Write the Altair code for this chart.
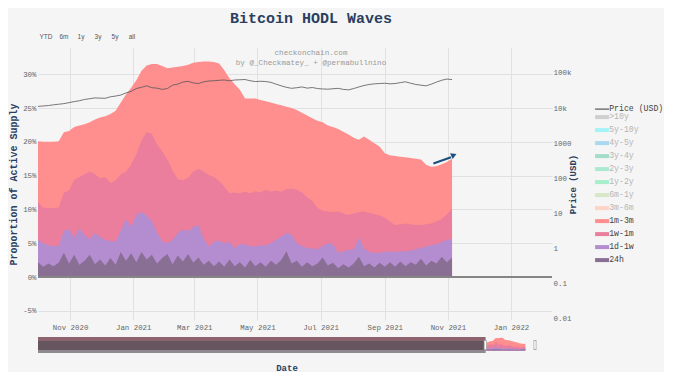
import altair as alt
import pandas as pd

# ---------------- data ----------------
dates = pd.date_range("2020-10-01", periods=81, freq="5D").strftime("%Y-%m-%d").tolist()

# cumulative tops of each visible wave (percent of active supply)
top_1m_3m = [20.1, 20.0, 20.0, 20.0, 20.1, 21.4, 21.6, 22.2, 22.4, 22.6,
             22.9, 23.3, 23.6, 23.8, 24.1, 24.6, 25.8, 27.0, 28.0, 29.1,
             30.5, 31.3, 31.5, 31.5, 31.2, 30.9, 31.0, 31.1, 31.2, 31.4,
             31.7, 31.8, 31.9, 31.9, 31.8, 31.6, 30.6, 29.4, 28.5, 27.7,
             26.4, 26.4, 26.4, 26.2, 26.0, 25.8, 25.6, 25.4, 25.2, 25.0,
             24.7, 24.3, 23.9, 23.5, 23.1, 22.9, 22.4, 22.2, 21.9, 21.5,
             21.1, 20.6, 20.3, 20.8, 20.3, 19.8, 19.3, 18.3, 18.0, 17.9,
             17.8, 17.7, 17.6, 17.5, 17.4, 16.6, 16.3, 16.4, 16.7, 17.0,
             17.5]
top_1w_1m = [11.1, 10.3, 10.2, 10.2, 10.3, 12.5, 12.8, 14.4, 14.8, 15.2,
             15.6, 15.2, 14.6, 14.8, 13.9, 14.3, 15.2, 15.6, 16.6, 18.2,
             20.2, 21.4, 21.2, 19.6, 18.6, 17.4, 15.8, 14.5, 14.3, 14.7,
             15.6, 16.0, 15.6, 15.1, 14.8, 14.2, 13.4, 12.4, 12.5, 12.4,
             12.6, 12.4, 12.7, 12.5, 12.9, 12.6, 12.8, 12.6, 13.0, 13.1,
             12.9, 12.5, 11.8, 11.3, 10.2, 9.8, 9.7, 9.6, 9.7, 9.4,
             9.2, 9.4, 9.6, 9.7, 9.5, 9.3, 9.1, 8.8, 8.2, 7.7,
             7.8, 7.9, 7.8, 7.7, 7.7, 7.8, 7.9, 8.2, 8.6, 9.3,
             10.1]
top_1d_1w = [5.5, 5.0, 4.7, 4.6, 4.6, 6.8, 7.1, 5.8, 7.2, 6.2,
             5.6, 6.6, 5.9, 5.5, 5.3, 5.2, 6.9, 8.6, 7.4, 9.2,
             9.6, 9.1, 8.3, 6.6, 5.3, 5.0, 5.5, 6.5, 7.0, 6.8,
             7.4, 7.7, 5.7, 4.5, 5.2, 5.4, 5.0, 5.2, 4.3, 4.9,
             4.8, 4.6, 4.5, 4.7, 4.7, 5.0, 5.5, 6.0, 6.5, 6.3,
             5.0, 4.6, 4.3, 4.2, 4.1, 4.6, 5.0, 4.9, 3.6, 3.8,
             4.0, 4.1, 5.9, 4.2, 3.7, 3.6, 3.6, 3.7, 3.8, 3.7,
             3.8, 3.8, 3.9, 4.1, 4.3, 4.5, 4.7, 4.9, 5.1, 5.5,
             5.6]
top_24h = [2.2, 1.5, 2.0, 1.6, 2.1, 3.6, 2.0, 3.3, 1.8, 2.4,
           3.3, 1.9, 2.6, 1.7, 2.8, 1.8, 3.7, 2.4, 3.5, 2.2,
           3.7, 2.6, 3.3, 2.0, 2.8, 3.4, 1.9, 3.2, 2.3, 3.4,
           2.1, 2.9, 1.8, 2.4, 1.6, 2.3, 1.5, 2.6, 1.6, 2.2,
           1.4, 2.5, 1.6, 2.2, 1.5, 2.4, 1.8, 2.5, 3.8, 2.0,
           2.4, 1.5, 2.2, 1.6, 2.0, 2.9, 1.7, 2.1, 1.3, 1.9,
           1.4, 2.0, 3.0, 1.6, 2.0, 1.4, 2.1, 1.5, 2.2, 1.5,
           2.3, 1.6, 2.2, 1.8, 2.7, 1.7, 2.4, 2.0, 3.0, 2.2,
           2.9]
price = [11200, 11500, 11800, 12400, 12900, 13400, 14300, 15300, 16200, 17600,
         18500, 19500, 19200, 19000, 21000, 22000, 23500, 27000, 30000, 36000,
         39000, 43000, 38000, 37000, 34000, 36000, 45000, 48000, 55000, 58000,
         52000, 50000, 56000, 59000, 60000, 62000, 63000, 60000, 63000, 64000,
         65000, 60000, 57000, 58000, 57000, 54000, 48000, 43000, 39000, 36500,
         38000, 40000, 37000, 38500, 36000, 35000, 34500, 35500, 36500, 34000,
         33000, 36000, 40000, 44000, 47000, 49000, 50000, 51000, 49000, 50000,
         53000, 56000, 51000, 47000, 45000, 43000, 48000, 55000, 62000, 67000,
         65000]

legend_names = ["Price (USD)", ">10y", "5y-10y", "4y-5y", "3y-4y", "2y-3y", "1y-2y",
                "6m-1y", "3m-6m", "1m-3m", "1w-1m", "1d-1w", "24h"]
legend_colors = ["#555555", "#cfcfcf", "#a4f3f6", "#a9d9f0", "#a3dcc9", "#ace9d1", "#a6efca",
                 "#d6e6c6", "#ffd3c6", "#ff8f8f", "#ea7e9c", "#b48cd0", "#8a6f94"]
hidden_names = legend_names[1:9]

band_names = ["1m-3m", "1w-1m", "1d-1w", "24h"]
band_tops = [top_1m_3m, top_1w_1m, top_1d_1w, top_24h]

arrow_dates = ["2021-10-18", "2021-11-04"]
arrow_pct = [16.8, 17.72]
arrow_head_date = ["2021-11-06"]
arrow_head_pct = [17.98]

credit_lines = ["checkonchain.com", "by @_Checkmatey_ + @permabullnino"]
range_buttons = ["YTD", "6m", "1y", "3y", "5y", "all"]

slider_hist = {"start": ["2008-07-01"], "end": ["2020-10-01"]}
slider_handles = ["2020-10-01", "2022-02-10"]

# ---------------- tables ----------------
bands = pd.DataFrame([{"date": d, "series": n, "pct": v}
                      for n, vals in zip(band_names, band_tops)
                      for d, v in zip(dates, vals)])
prices = pd.DataFrame({"date": dates, "series": "Price (USD)", "price": price})
arrow = pd.DataFrame({"date": arrow_dates, "pct": arrow_pct})
arrow_head_df = pd.DataFrame({"date": arrow_head_date, "pct": arrow_head_pct})
zero = pd.DataFrame({"pct": [0]})

FONT = "Liberation Mono"
NAVY = "#2a3f5f"
BG = "#f5f5f5"
GRID = "#e1e1e1"
LBL = "#666666"

def dt(y, m, d, h=0):
    return alt.DateTime(year=y, month=m, date=d, hours=h, utc=True)

x_enc = alt.X(
    "date:T",
    scale=alt.Scale(type="utc", domain=[dt(2020, 10, 1), dt(2022, 2, 9, 14)]),
    axis=alt.Axis(values=[dt(2020, 11, 1), dt(2021, 1, 1), dt(2021, 3, 1), dt(2021, 5, 1),
                          dt(2021, 7, 1), dt(2021, 9, 1), dt(2021, 11, 1), dt(2022, 1, 1)],
                  labelExpr="utcFormat(datum.value, '%b %Y')",
                  grid=True, gridColor=GRID, domain=False, ticks=False,
                  labelFont=FONT, labelFontSize=7.4, labelColor=LBL, labelPadding=3,
                  title=None),
)

y_left = alt.Y(
    "pct:Q", stack=None,
    scale=alt.Scale(domain=[-6.36, 33.88], nice=False, zero=False),
    axis=alt.Axis(values=[-5, 0, 5, 10, 15, 20, 25, 30], labelExpr="datum.value + '%'",
                  grid=True, gridColor=GRID, domain=False, ticks=False,
                  labelFont=FONT, labelFontSize=7.4, labelColor=LBL, labelPadding=2,
                  title="Proportion of Active Supply", titleFont=FONT, titleFontSize=10,
                  titleFontWeight="bold", titleColor=NAVY, titlePadding=4.5),
)

hidden_js = "[" + ",".join("'" + n + "'" for n in hidden_names) + "]"
color_enc = alt.Color(
    "series:N",
    scale=alt.Scale(domain=legend_names, range=legend_colors),
    legend=alt.Legend(orient="none", legendX=560, legendY=57, title=None, padding=0,
                      symbolType="stroke", symbolSize=196,
                      symbolStrokeWidth={"expr": "datum.label == 'Price (USD)' ? 1.2 : 4"},
                      symbolStrokeColor={"expr": "scale('color', datum.value)"},
                      labelColor={"expr": "indexof(" + hidden_js + ", datum.label) >= 0 ? '#b5b5b5' : '#444444'"},
                      labelFont=FONT, labelFontSize=8.2, labelOffset=3, rowPadding=-4.2,
                      values=legend_names),
)

area_layers = [
    alt.Chart(bands).transform_filter(alt.datum.series == n)
    .mark_area(opacity=1, interpolate="linear")
    .encode(x=x_enc, y=y_left, y2=alt.datum(0), color=color_enc)
    for n in band_names
]

zero_rule = alt.Chart(zero).mark_rule(color="#858585", strokeWidth=2).encode(y=y_left)

arrow_line = alt.Chart(arrow).mark_line(color="#1d4f7c", strokeWidth=2.2).encode(x=x_enc, y=y_left)
arrow_head = (alt.Chart(arrow_head_df)
              .mark_point(shape="triangle", angle=67, size=40, filled=True, opacity=1, color="#1d4f7c")
              .encode(x=x_enc, y=y_left))

credit_layers = [
    alt.Chart(pd.DataFrame({"t": [c]})).mark_text(
        font=FONT, fontSize=7.6, color="#9a9a9a", align="center", baseline="middle"
    ).encode(x=alt.value(273), y=alt.value(5 + 10 * i), text="t:N")
    for i, c in enumerate(credit_lines)
]

button_layers = [
    alt.Chart(pd.DataFrame({"t": [b]})).mark_text(font="Liberation Sans", fontSize=6.5, color="#555555",
                                                 align="center", baseline="middle")
    .encode(x=alt.value(8 + 17 * i + (1 if i > 0 else 0)), y=alt.value(-11), text="t:N")
    for i, b in enumerate(range_buttons)
]

inner = alt.layer(*area_layers, zero_rule, arrow_line, arrow_head, *credit_layers, *button_layers)

price_line = alt.Chart(prices).mark_line(strokeWidth=0.8).encode(
    x=x_enc,
    y=alt.Y("price:Q",
            scale=alt.Scale(type="log", domain=[0.00933, 513000], nice=False),
            axis=alt.Axis(orient="right", values=[0.01, 0.1, 1, 10, 100, 1000, 10000, 100000],
                          labelExpr="datum.value >= 10000 ? format(datum.value / 1000, 'd') + 'k' : (datum.value >= 1 ? format(datum.value, 'd') : (datum.value > 0.05 ? '0.1' : '0.01'))",
                          grid=False, domain=False, ticks=False,
                          labelFont=FONT, labelFontSize=7.5, labelColor=LBL, labelPadding=1,
                          title="Price (USD)", titleFont=FONT, titleFontSize=9,
                          titleFontWeight="bold", titleColor=NAVY, titlePadding=6, titleAngle=270)),
    color=color_enc,
)

main = alt.layer(inner, price_line).resolve_scale(y="independent").properties(
    width=514, height=272,
    title=alt.Title("Bitcoin HODL Waves", font=FONT, fontSize=15, fontWeight="bold", color=NAVY,
                    anchor="middle", frame="group", dx=16, offset=8),
)

# ---------------- range slider ----------------
sx_scale = alt.Scale(type="utc", domain=[dt(2008, 7, 1), dt(2022, 2, 10)])
sx_axis = alt.Axis(labels=False, ticks=False, domain=False, grid=False, title="Date",
                   titleFont=FONT, titleFontSize=9, titleFontWeight="bold", titleColor=NAVY,
                   titlePadding=10)

hist = alt.Chart(pd.DataFrame(slider_hist)).mark_rect(color="#66555f").encode(
    x=alt.X("start:T", scale=sx_scale, axis=sx_axis), x2="end:T")
hist_top = alt.Chart(pd.DataFrame(slider_hist)).mark_rect(color="#8c6470").encode(
    x=alt.X("start:T", scale=sx_scale, axis=sx_axis), x2="end:T", y=alt.value(0), y2=alt.value(4))
hist_bottom = alt.Chart(pd.DataFrame(slider_hist)).mark_rect(color="#8e8a8d").encode(
    x=alt.X("start:T", scale=sx_scale, axis=sx_axis), x2="end:T", y=alt.value(13), y2=alt.value(16))

band_color = dict(zip(legend_names, legend_colors))
slider_bands = [
    alt.Chart(bands).transform_filter(alt.datum.series == n)
    .mark_area(opacity=1, color=band_color[n])
    .encode(x=alt.X("date:T", scale=sx_scale, axis=sx_axis),
            y=alt.Y("pct:Q", stack=None, scale=alt.Scale(domain=[-6.36, 33.88], nice=False, zero=False), axis=None),
            y2=alt.datum(0))
    for n in band_names
]
handles = alt.Chart(pd.DataFrame({"date": slider_handles})).mark_rule(color="#aaaaaa", strokeWidth=3).encode(
    x=alt.X("date:T", scale=sx_scale, axis=sx_axis), y=alt.value(3), y2=alt.value(13))
handles_in = alt.Chart(pd.DataFrame({"date": slider_handles})).mark_rule(color="#ffffff", strokeWidth=1.4).encode(
    x=alt.X("date:T", scale=sx_scale, axis=sx_axis), y=alt.value(4), y2=alt.value(12))

slider = alt.layer(hist, hist_top, hist_bottom, *slider_bands, handles, handles_in).properties(width=497, height=16)

chart = alt.vconcat(main, slider, spacing=6).resolve_legend(color="independent").properties(
    padding={"left": 0, "top": 3, "right": 0, "bottom": 0}
).configure(background=BG, font=FONT).configure_view(stroke=None)

chart.save("out.html", embed_options={"renderer": "svg", "actions": False})
